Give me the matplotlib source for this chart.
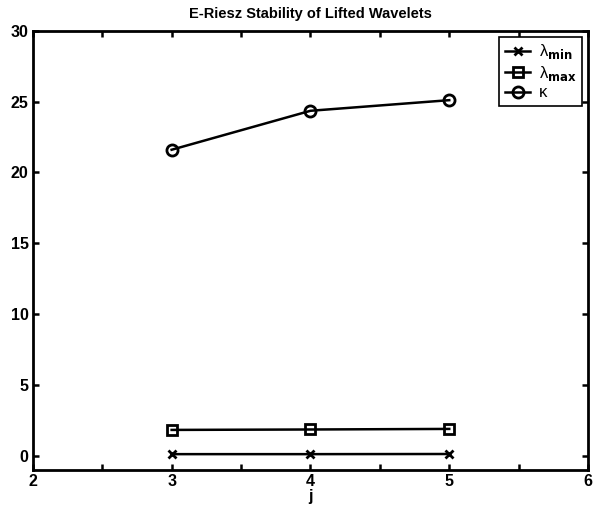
import matplotlib.pyplot as plt
from matplotlib.ticker import MultipleLocator

plt.rcParams["font.family"] = ["Liberation Sans", "DejaVu Sans"]
plt.rcParams["mathtext.fontset"] = "dejavusans"

levels = [3, 4, 5]
lambda_min = [0.12, 0.12, 0.13]
lambda_max = [1.83, 1.86, 1.9]
kappa = [21.6, 24.35, 25.1]

fig = plt.figure(figsize=(5.97, 5.12), dpi=100)
ax = fig.add_axes([0.055, 0.082, 0.93, 0.858])

ax.plot(levels, lambda_min, color="black", linewidth=1.8, marker="x",
        markersize=6, markeredgewidth=2, label="λ$_{\\mathbf{min}}$")
ax.plot(levels, lambda_max, color="black", linewidth=1.8, marker="s",
        markersize=7, markerfacecolor="none", markeredgewidth=2,
        label="λ$_{\\mathbf{max}}$")
ax.plot(levels, kappa, color="black", linewidth=1.8, marker="o",
        markersize=8, markerfacecolor="none", markeredgewidth=2,
        label="κ")

ax.set_xlim(2, 6)
ax.set_ylim(-1, 30)
ax.xaxis.set_major_locator(MultipleLocator(1))
ax.xaxis.set_minor_locator(MultipleLocator(0.5))
ax.yaxis.set_major_locator(MultipleLocator(5))
ax.tick_params(which="both", direction="in", top=True, right=True,
               width=1.8, length=4, labelsize=11.5, pad=3)
for label in ax.get_xticklabels() + ax.get_yticklabels():
    label.set_fontweight("bold")
for spine in ax.spines.values():
    spine.set_linewidth(2)

ax.set_xlabel("j", fontsize=11.5, fontweight="bold", labelpad=0)
ax.set_title("E-Riesz Stability of Lifted Wavelets", fontsize=10.5,
             fontweight="bold", pad=9)

leg = ax.legend(loc="upper right", fontsize=12, fancybox=False,
                edgecolor="black", framealpha=1, handlelength=1.5,
                borderaxespad=0.35, labelspacing=0.15, handletextpad=0.5,
                borderpad=0.35)
leg.get_frame().set_linewidth(1.2)

fig.savefig("out.png", dpi=100)
